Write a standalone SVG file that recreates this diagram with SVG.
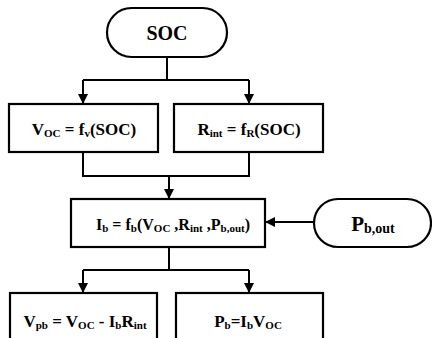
<svg xmlns="http://www.w3.org/2000/svg" width="432" height="338" viewBox="0 0 432 338">
<style>
.b{fill:#fff;stroke:#000;stroke-width:2.2}
.c{fill:none;stroke:#000;stroke-width:2}
text{font-family:'Liberation Serif','Times New Roman',Times,serif;font-weight:bold;fill:#000;text-anchor:middle}
.s{font-size:11px}
</style>
<defs>
<marker id="a" viewBox="0 0 10 10" refX="10" refY="5" markerWidth="5" markerHeight="5" orient="auto" markerUnits="strokeWidth">
<path d="M0,0 L10,5 L0,10 z" fill="#000"/>
</marker>
</defs>
<g id="connectors">
<path class="c" d="M167,57 V80"/>
<path class="c" d="M83,80 H249"/>
<path class="c" d="M83,80 V104" marker-end="url(#a)"/>
<path class="c" d="M249,80 V104" marker-end="url(#a)"/>
<path class="c" d="M83,152 V176 H249 V152"/>
<path class="c" d="M169,176 V199" marker-end="url(#a)"/>
<path class="c" d="M314,222 H265" marker-end="url(#a)"/>
<path class="c" d="M169,247 V270"/>
<path class="c" d="M83,270 H249"/>
<path class="c" d="M83,270 V293" marker-end="url(#a)"/>
<path class="c" d="M249,270 V293" marker-end="url(#a)"/>
</g>
<g id="soc">
<rect class="b" x="107" y="8" width="120" height="49" rx="24.5"/>
<text x="167" y="40" font-size="20">SOC</text>
</g>
<g id="voc">
<rect class="b" x="9" y="104" width="149" height="48"/>
<text x="84" y="135" font-size="17">V<tspan class="s" dy="2">OC</tspan><tspan dy="-2"> = f</tspan><tspan class="s" dy="2">v</tspan><tspan dy="-2">(SOC)</tspan></text>
</g>
<g id="rint">
<rect class="b" x="174" y="104" width="149" height="48"/>
<text x="249" y="135" font-size="17">R<tspan class="s" dy="2">int</tspan><tspan dy="-2"> = f</tspan><tspan class="s" dy="2">R</tspan><tspan dy="-2">(SOC)</tspan></text>
</g>
<g id="ib">
<rect class="b" x="71" y="199" width="194" height="48"/>
<text x="173" y="230" font-size="16">I<tspan class="s" dy="2">b</tspan><tspan dy="-2"> = f</tspan><tspan class="s" dy="2">b</tspan><tspan dy="-2">(V</tspan><tspan class="s" dy="2">OC</tspan><tspan dy="-2"> ,R</tspan><tspan class="s" dy="2">int</tspan><tspan dy="-2"> ,P</tspan><tspan class="s" dy="2">b,out</tspan><tspan dy="-2">)</tspan></text>
</g>
<g id="pbout">
<rect class="b" x="314" y="199" width="117" height="48" rx="24"/>
<text x="373" y="231" font-size="21">P<tspan font-size="14" dy="2">b,out</tspan></text>
</g>
<g id="vpb">
<rect class="b" x="10" y="293" width="147" height="60"/>
<text x="85" y="327" font-size="17">V<tspan class="s" dy="2">pb</tspan><tspan dy="-2"> = V</tspan><tspan class="s" dy="2">OC</tspan><tspan dy="-2"> - I</tspan><tspan class="s" dy="2">b</tspan><tspan dy="-2">R</tspan><tspan class="s" dy="2">int</tspan></text>
</g>
<g id="pb">
<rect class="b" x="176" y="293" width="147" height="60"/>
<text x="248" y="327" font-size="17">P<tspan class="s" dy="2">b</tspan><tspan dy="-2">=I</tspan><tspan class="s" dy="2">b</tspan><tspan dy="-2">V</tspan><tspan class="s" dy="2">OC</tspan></text>
</g>
</svg>
